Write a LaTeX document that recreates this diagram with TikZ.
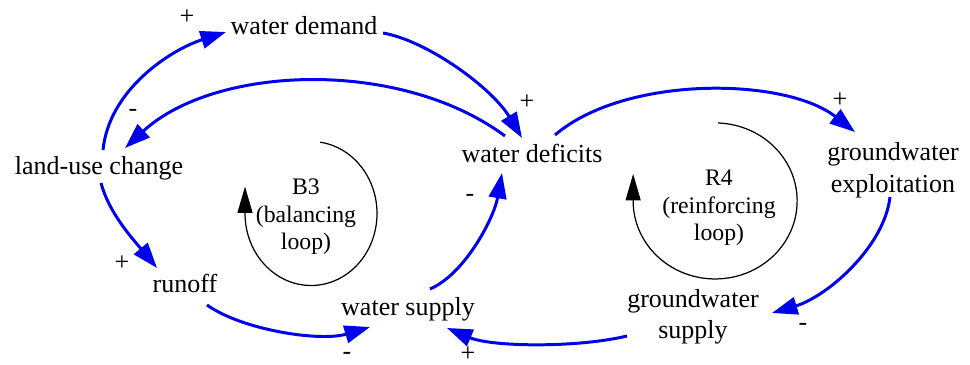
\documentclass[tikz,border=0pt]{standalone}
\usepackage{fontspec}
\setmainfont{Liberation Serif}
\usetikzlibrary{arrows.meta}
\definecolor{linkblue}{RGB}{0,0,238}
\tikzset{
  var/.style={inner sep=0pt, font=\fontsize{14.8}{18}\selectfont, align=center},
  looptext/.style={inner sep=0pt, font=\fontsize{13.5}{15.6}\selectfont, align=center},
  sign/.style={inner sep=0pt, font=\fontsize{14.8}{18}\selectfont},
  link/.style={draw=linkblue, line width=1.7pt,
    -{Triangle[length=14.5pt, width=10pt, fill=linkblue]}},
  loopline/.style={draw=black, line width=0.7pt,
    -{Triangle[length=15pt, width=8.5pt]}},
}
\begin{document}
\begin{tikzpicture}[x=0.02cm, y=0.02cm]
\useasboundingbox (0,0) rectangle (970,365);

% variables
\node[var, anchor=base] (wd)   at (304,330) {water demand};
\node[var, anchor=base] (lu)   at (99,190)  {land-use change};
\node[var, anchor=base] (wdef) at (532,202) {water deficits};
\node[var, anchor=base] (ro)   at (185,72)  {runoff};
\node[var, anchor=base] (ws)   at (408,50)  {water supply};
\node[var] (gwe) at (893,195)  {groundwater\\exploitation};
\node[var] (gws) at (693,48.3) {groundwater\\supply};

% loop labels
\node[looptext] (b3) at (306,148) {B3\\(balancing\\loop)};
\node[looptext] (r4) at (719,157) {R4\\(reinforcing\\loop)};

% loop direction markers
\draw[loopline] (320.2,222.8) arc[start angle=82, end angle=-180, x radius=66, y radius=72] -- ++(0,27);
\draw[loopline] (718,242) arc[start angle=88, end angle=-180, x radius=82, y radius=78] -- ++(0,27);

% causal links
\draw[link] ([shift={(4,25)}]lu.base) .. controls +(6,60) and +(-56,-18) .. ([shift={(-78,3)}]wd.base);
\draw[link] ([shift={(79,2)}]wd.base) .. controls +(45,-8) and +(-30,50) .. ([shift={(-10,25)}]wdef.base);
\draw[link] ([shift={(-27,27)}]wdef.base) .. controls +(-105,78) and +(90,83) .. ([shift={(26,27)}]lu.base);
\draw[link] ([shift={(2,-8)}]lu.base) .. controls +(8,-30) and +(-25,30) .. ([shift={(-28,25)}]ro.base);
\draw[link] ([shift={(22,-12)}]ro.base) .. controls +(35,-25) and +(-50,-15) .. ([shift={(-38,-12)}]ws.base);
\draw[link] ([shift={(22,26)}]ws.base) .. controls +(35,15) and +(-8,-45) .. ([shift={(-30,-10)}]wdef.base);
\draw[link] ([shift={(23,28)}]wdef.base) .. controls +(70,60) and +(-70,55) .. ([shift={(-38,38)}]gwe.center);
\draw[link] ([shift={(-3,-27)}]gwe.center) .. controls +(-6,-51) and +(54,16) .. ([shift={(79,3.7)}]gws.center);
\draw[link] ([shift={(-66,-19.3)}]gws.center) .. controls +(-50,-12) and +(45,-19) .. ([shift={(39,-13)}]ws.base);

% polarity signs
\node[sign] (s1) at (187,348) {+};
\node[sign] (s2) at (527,263) {+};
\node[sign] (s3) at (133,252) {-};
\node[sign] (s4) at (122,102) {+};
\node[sign] (s5) at (347,9)   {-};
\node[sign] (s6) at (468,11)  {+};
\node[sign] (s7) at (470,167) {-};
\node[sign] (s8) at (840,265) {+};
\node[sign] (s9) at (803,38)  {-};
\end{tikzpicture}
\end{document}
